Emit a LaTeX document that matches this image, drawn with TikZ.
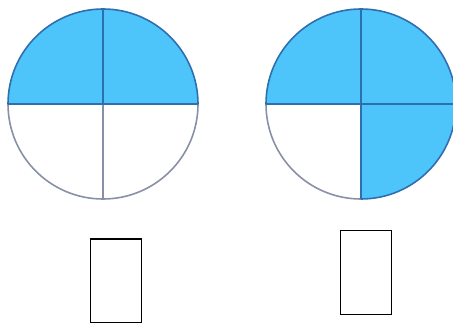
\documentclass[tikz,border=0pt]{standalone}
\definecolor{fillblue}{HTML}{4DC4FA}
\definecolor{edgeblue}{HTML}{2F6FB0}
\definecolor{edgegray}{HTML}{8890A8}
\tikzset{
  blueline/.style={draw=edgeblue, line width=1.6pt},
  grayline/.style={draw=edgegray, line width=1.6pt},
  answerbox/.style={draw=black, line width=1.3pt, minimum width=51pt, minimum height=84pt, inner sep=0pt}
}
\begin{document}
\begin{tikzpicture}[x=1pt,y=-1pt]
\useasboundingbox (0,0) rectangle (453,323);
\clip (0,0) rectangle (453,323);
% left circle
\coordinate (L) at (103,104);
\fill[fillblue] (8,104) arc[start angle=180, end angle=360, radius=95] -- cycle;
\draw[grayline] (8,104) arc[start angle=180, end angle=0, radius=95];
\draw[grayline] (L) -- (103,199);
\draw[blueline] (8,104) arc[start angle=180, end angle=360, radius=95];
\draw[blueline] (8,104) -- (198,104);
\draw[blueline] (L) -- (103,9);
% right circle
\coordinate (R) at (361,104);
\fill[fillblue] (266,104) arc[start angle=180, end angle=450, radius=95] -- (R) -- cycle;
\draw[grayline] (266,104) arc[start angle=180, end angle=90, radius=95];
\draw[blueline] (361,199) arc[start angle=90, end angle=-180, radius=95];
\draw[blueline] (266,104) -- (456,104);
\draw[blueline] (361,9) -- (361,199);
% answer boxes
\node[answerbox] (boxL) at (116,281) {};
\node[answerbox] (boxR) at (366,272.5) {};
\end{tikzpicture}
\end{document}
